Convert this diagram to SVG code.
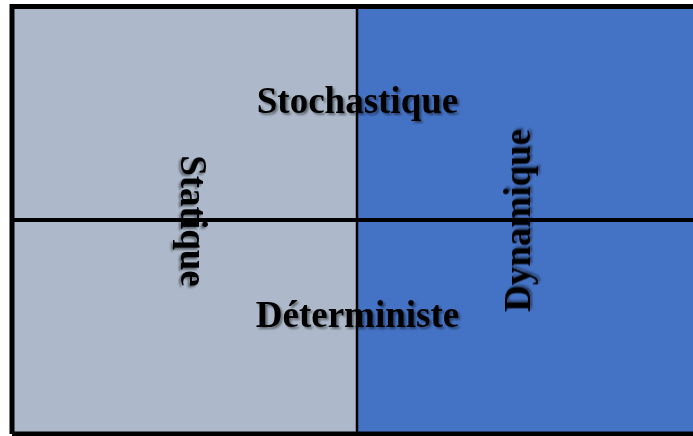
<svg xmlns="http://www.w3.org/2000/svg" width="693" height="436" viewBox="0 0 693 436">
  <defs>
    <filter id="shadow" x="-10%" y="-10%" width="130%" height="130%">
      <feGaussianBlur in="SourceAlpha" stdDeviation="1.2"/>
      <feOffset dx="2" dy="2" result="b"/>
      <feComponentTransfer><feFuncA type="linear" slope="0.45"/></feComponentTransfer>
      <feMerge><feMergeNode/><feMergeNode in="SourceGraphic"/></feMerge>
    </filter>
  </defs>
  <style>
    .lbl { font-family: "Liberation Serif", "Times New Roman", serif; font-weight: bold; font-size: 37px; fill: #000; filter: url(#shadow); }
    .line { stroke: #000; fill: none; }
  </style>
  <rect width="693" height="436" fill="#ffffff"/>
  <g id="quadrants">
    <rect id="static" x="12" y="6" width="345" height="428" fill="#ADB9CA"/>
    <rect id="dynamic" x="357" y="6" width="336" height="428" fill="#4472C4"/>
  </g>
  <g id="labels">
    <text class="lbl" x="357.5" y="113" text-anchor="middle">Stochastique</text>
    <text class="lbl" x="357.5" y="327" text-anchor="middle">Déterministe</text>
    <text class="lbl" transform="translate(181,221) rotate(90)" text-anchor="middle">Statique</text>
    <text class="lbl" transform="translate(530,220.5) rotate(-90)" text-anchor="middle">Dynamique</text>
  </g>
  <g id="connectors">
    <path class="line" d="M12,434 V6.5 H693" stroke-width="5"/>
    <path class="line" d="M12,434 H693" stroke-width="5"/>
    <path class="line" d="M357,6 V434" stroke-width="2.5"/>
    <path class="line" d="M12,220 H693" stroke-width="4"/>
  </g>
</svg>
